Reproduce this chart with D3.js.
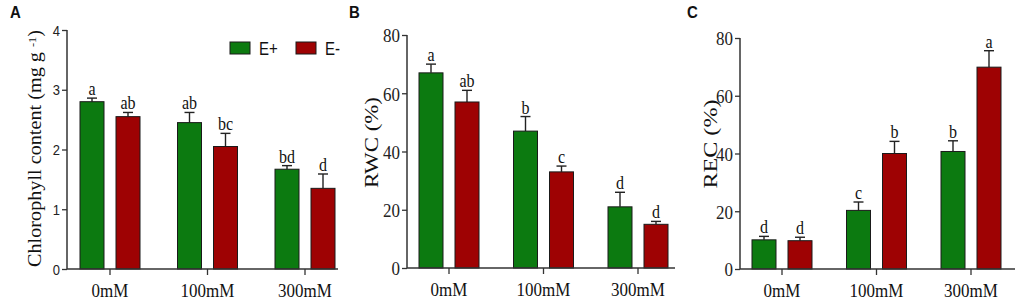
<!DOCTYPE html>
<html>
<head>
<meta charset="utf-8">
<script src="https://cdn.jsdelivr.net/npm/d3@7"></script>
<style>
  html, body { margin: 0; padding: 0; background: #fff; }
  svg { display: block; }
</style>
</head>
<body>
<svg id="chart" width="1021" height="306"></svg>
<script>
// ---------------- DATA ----------------
const categories = ["0mM", "100mM", "300mM"];
const seriesNames = ["E+", "E-"];

// Panel A: Chlorophyll content (mg g-1)
const chlEplus = [2.80, 2.45, 1.67];
const chlEminus = [2.55, 2.05, 1.35];
const chlErrEplus = [0.06, 0.17, 0.06];
const chlErrEminus = [0.07, 0.22, 0.24];
const chlLetEplus = ["a", "ab", "bd"];
const chlLetEminus = ["ab", "bc", "d"];
const chlTicks = [0, 1, 2, 3, 4];

// Panel B: RWC (%)
const rwcEplus = [67, 47, 21];
const rwcEminus = [57, 33, 15];
const rwcErrEplus = [3, 5, 5];
const rwcErrEminus = [4, 2, 1];
const rwcLetEplus = ["a", "b", "d"];
const rwcLetEminus = ["ab", "c", "d"];
const rwcTicks = [0, 20, 40, 60, 80];

// Panel C: REC (%)
const recEplus = [10.1, 20.3, 40.7];
const recEminus = [9.8, 40.0, 69.9];
const recErrEplus = [1.2, 2.9, 3.7];
const recErrEminus = [1.2, 4.2, 5.7];
const recLetEplus = ["d", "c", "b"];
const recLetEminus = ["d", "b", "a"];
const recTicks = [0, 20, 40, 60, 80];

// ---------------- STYLE / LAYOUT ----------------
const colors = { "E+": "#0c7a10", "E-": "#9e0203" };
const serif = "'Liberation Serif', 'Times New Roman', serif";
const sans = "'Liberation Sans', Arial, sans-serif";
const VS = 1.15; // vertical stretch of horizontal text in reference

const svg = d3.select("#chart");

function makePanel(cfg) {
  const g = svg.append("g");
  const step = (cfg.centers[2] - cfg.centers[0]) / 2;
  const x = d3.scaleBand().domain(categories)
    .range([cfg.centers[0] - step / 2, cfg.centers[2] + step / 2]).padding(0);
  const inner = d3.scaleBand().domain(seriesNames)
    .range([-30, 30]).paddingInner(1 / 3).paddingOuter(0);
  const y = d3.scaleLinear().domain([0, cfg.max]).range([cfg.y0, cfg.yTop]);

  const rows = [];
  categories.forEach((c, i) => {
    rows.push({ cat: c, s: "E+", v: cfg.ep[i], e: cfg.epErr[i], l: cfg.epLet[i] });
    rows.push({ cat: c, s: "E-", v: cfg.em[i], e: cfg.emErr[i], l: cfg.emLet[i] });
  });
  const cx = d => x(d.cat) + x.bandwidth() / 2 + inner(d.s) + inner.bandwidth() / 2;

  // error bars (upper only)
  g.selectAll(".err").data(rows).join("line")
    .attr("x1", cx).attr("x2", cx)
    .attr("y1", d => y(d.v)).attr("y2", d => y(d.v + d.e))
    .attr("stroke", "#222").attr("stroke-width", 1.4);
  g.selectAll(".cap").data(rows).join("line")
    .attr("x1", d => cx(d) - 5).attr("x2", d => cx(d) + 5)
    .attr("y1", d => y(d.v + d.e)).attr("y2", d => y(d.v + d.e))
    .attr("stroke", "#222").attr("stroke-width", 1.4);

  // bars
  g.selectAll(".bar").data(rows).join("rect")
    .attr("x", d => cx(d) - inner.bandwidth() / 2)
    .attr("width", inner.bandwidth())
    .attr("y", d => y(d.v))
    .attr("height", d => y(0) - y(d.v))
    .attr("fill", d => colors[d.s])
    .attr("stroke", "#1a1a1a").attr("stroke-width", 1);

  // significance letters
  g.selectAll(".let").data(rows).join("text")
    .attr("transform", d => `translate(${cx(d)},${y(d.v + d.e) - 3}) scale(1,${VS})`)
    .attr("text-anchor", "middle")
    .style("font-family", serif).style("font-size", "16px").attr("fill", "#111")
    .text(d => d.l);

  // y axis
  const yAxis = g.append("g").attr("transform", `translate(${cfg.axisX},0)`)
    .call(d3.axisLeft(y).tickValues(cfg.ticks).tickSize(5).tickPadding(2).tickFormat(d3.format("d")));
  yAxis.select(".domain").remove();
  yAxis.append("line").attr("x1", 0).attr("x2", 0).attr("y1", cfg.y0).attr("y2", cfg.yTop)
    .attr("stroke", "#333").attr("stroke-width", 1.5);
  yAxis.selectAll(".tick line").attr("stroke", "#333").attr("stroke-width", 1.3);
  yAxis.selectAll(".tick text")
    .attr("transform", `scale(1,${VS})`)
    .attr("y", 0).attr("dy", "0.35em")
    .style("font-family", cfg.tickFont).style("font-size", cfg.tickSize + "px").attr("fill", "#222");

  // x axis
  const xAxis = g.append("g").attr("transform", `translate(0,${cfg.y0})`)
    .call(d3.axisBottom(x).tickSize(6).tickPadding(3));
  xAxis.select(".domain").remove();
  xAxis.append("line").attr("x1", cfg.axisX).attr("x2", cfg.xEnd).attr("y1", 0).attr("y2", 0)
    .attr("stroke", "#333").attr("stroke-width", 1.5);
  xAxis.selectAll(".tick line").attr("stroke", "#333").attr("stroke-width", 1.3);
  xAxis.selectAll(".tick text")
    .attr("transform", `translate(0,21) scale(1,${VS})`)
    .attr("y", 0).attr("dy", "0.35em")
    .style("font-family", serif).style("font-size", "17px").attr("fill", "#111");

  // y title (rotated), stretched to measured length
  const t = g.append("text")
    .attr("text-anchor", "middle")
    .style("font-family", serif).style("font-size", cfg.titleSize + "px").attr("fill", "#111");
  cfg.title(t);
  const len = t.node().getComputedTextLength();
  const sx = cfg.titleLen / len;
  t.attr("dy", "0.35em")
    .attr("transform", `translate(${cfg.titleX},${cfg.titleY}) rotate(-90) scale(${sx},1)`);

  // panel letter
  svg.append("text")
    .attr("transform", `translate(${cfg.letterX},${cfg.letterY}) scale(1,${VS})`)
    .style("font-family", sans).style("font-size", "15px").style("font-weight", "bold")
    .attr("fill", "#111").text(cfg.letter);

  return { x, y };
}

makePanel({
  letter: "A", letterX: 10, letterY: 18,
  centers: [110, 207.5, 305], axisX: 67, xEnd: 338, y0: 269, yTop: 30, max: 4,
  ticks: chlTicks, tickFont: sans, tickSize: 13,
  ep: chlEplus, em: chlEminus, epErr: chlErrEplus, emErr: chlErrEminus,
  epLet: chlLetEplus, emLet: chlLetEminus,
  titleX: 35, titleY: 148.5, titleLen: 237, titleSize: 18,
  title: t => {
    t.append("tspan").text("Chlorophyll content (mg g ");
    t.append("tspan").attr("baseline-shift", "super").style("font-size", "11px").text("-1");
    t.append("tspan").text(")");
  }
});

makePanel({
  letter: "B", letterX: 349, letterY: 18,
  centers: [449, 544, 638], axisX: 407, xEnd: 675, y0: 268, yTop: 35, max: 80,
  ticks: rwcTicks, tickFont: serif, tickSize: 17,
  ep: rwcEplus, em: rwcEminus, epErr: rwcErrEplus, emErr: rwcErrEminus,
  epLet: rwcLetEplus, emLet: rwcLetEminus,
  titleX: 372, titleY: 142.5, titleLen: 91, titleSize: 18,
  title: t => t.text("RWC (%)")
});

makePanel({
  letter: "C", letterX: 687, letterY: 18,
  centers: [782, 876, 971], axisX: 740, xEnd: 1015, y0: 269, yTop: 38, max: 80,
  ticks: recTicks, tickFont: serif, tickSize: 17,
  ep: recEplus, em: recEminus, epErr: recErrEplus, emErr: recErrEminus,
  epLet: recLetEplus, emLet: recLetEminus,
  titleX: 711, titleY: 144, titleLen: 89, titleSize: 18,
  title: t => t.text("REC (%)")
});

// Legend (panel A)
const legendX = [230, 296];
const leg = svg.append("g");
seriesNames.forEach((s, i) => {
  leg.append("rect").attr("x", legendX[i]).attr("y", 42).attr("width", 20).attr("height", 12)
    .attr("fill", colors[s]).attr("stroke", "#1a1a1a").attr("stroke-width", 1);
  leg.append("text")
    .attr("transform", `translate(${legendX[i] + 29},${48}) scale(1,1.25)`)
    .attr("dy", "0.35em")
    .style("font-family", sans).style("font-size", "15px").attr("fill", "#111")
    .text(s);
});
</script>
</body>
</html>
